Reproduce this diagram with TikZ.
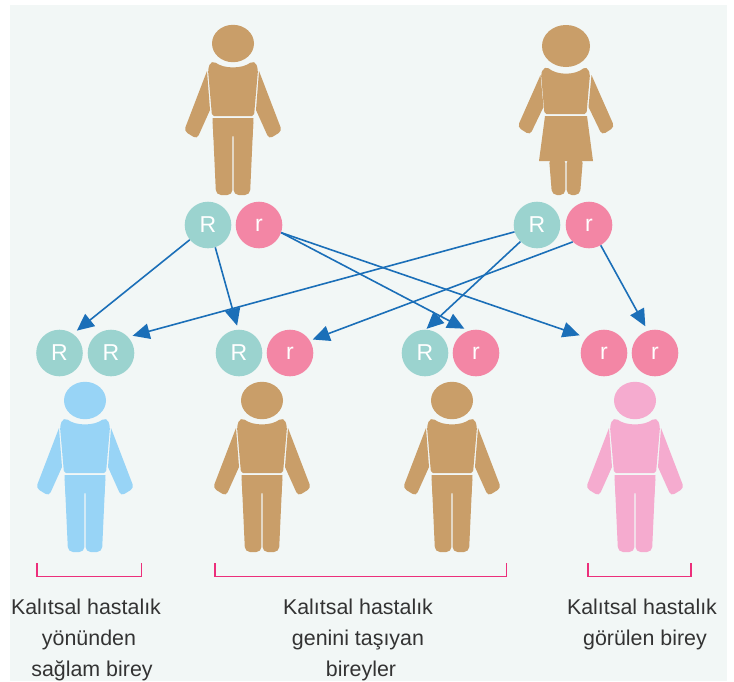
\documentclass[tikz,border=0pt]{standalone}
\usepackage{fontspec}
\setmainfont{Liberation Sans}
\usetikzlibrary{arrows.meta}
\definecolor{panel}{HTML}{F2F7F6}
\definecolor{tan}{HTML}{C99E69}
\definecolor{sky}{HTML}{98D4F6}
\definecolor{rosefig}{HTML}{F5ABCF}
\definecolor{teal}{HTML}{9BD3CF}
\definecolor{pinkc}{HTML}{F386A5}
\definecolor{arrowblue}{HTML}{1B6FB8}
\definecolor{brack}{HTML}{EC2F7B}
\definecolor{txt}{HTML}{333333}
\tikzset{
 x=1pt,y=-1pt,
 allele/.style={circle,minimum size=46.6pt,inner sep=0pt,text=white,font=\fontsize{23}{23}\selectfont},
 big/.style={allele,fill=teal},
 small/.style={allele,fill=pinkc},
 gene/.style={draw=arrowblue,line width=1.6pt,-{Triangle[length=17pt,width=15.5pt]}},
 brk/.style={draw=brack,line width=1.1pt},
 captext/.style={align=center,text=txt,font=\fontsize{21.4}{31}\selectfont},
}
\newcommand{\manfig}[3]{%
 \begin{scope}[shift={(#1,#2)},fill=#3,line join=round]
  \fill (0,.5) ellipse [x radius=21,y radius=18.7];
  \fill[rounded corners=2pt] (-19,18.5) .. controls (-9,26) and (9,26) .. (19,18.5) -- (23,20) -- (25,27) -- (21,73) -- (-21,73) -- (-25,27) -- (-23,20) -- cycle;
  \foreach \s in {-1,1}{
   \fill (\s*26,28) [rounded corners=4pt] -- (\s*49,88) -- (\s*36,96) [sharp corners] -- (\s*23,67) -- cycle;
   \fill[rounded corners=5pt] (\s*20.5,75) -- (\s*17,152) -- (\s*.6,152) -- (\s*.6,75) -- cycle;
   \fill (\s*20.5,75) -- (\s*.6,75) -- (\s*.6,94) -- (\s*19.6,94) -- cycle;
  }
  \fill (-1,75) rectangle (1,93);
 \end{scope}}
\newcommand{\womanfig}[3]{%
 \begin{scope}[shift={(#1,#2)},fill=#3,line join=round]
  \fill (0,0) ellipse [x radius=24,y radius=21];
  \fill[rounded corners=2pt] (-19,21) .. controls (-9,29.5) and (9,29.5) .. (19,21) -- (22,23) -- (24,28) -- (20.5,68) -- (-21.5,68) -- (-25,28) -- (-23,23) -- cycle;
  \foreach \s in {-1,1}{
   \fill (\s*25.5,29) [rounded corners=4pt] -- (\s*48.5,81) -- (\s*36,89) [sharp corners] -- (\s*22.5,61) -- cycle;
   \fill[rounded corners=5pt] (\s*17,112) -- (\s*14,149) -- (\s*.7,149) -- (\s*.7,112) -- cycle;
  }
  \fill (-21,70) -- (21,70) -- (27,115) -- (-27,115) -- cycle;
 \end{scope}}
\begin{document}
\begin{tikzpicture}
\useasboundingbox (0,0) rectangle (734,681);
\fill[white] (0,0) rectangle (734,681);
\fill[panel] (10,5) rectangle (726.5,681);
% figures
\manfig{233}{43}{tan}
\womanfig{566}{46}{tan}
\manfig{85}{400}{sky}
\manfig{262}{400}{tan}
\manfig{452}{400}{tan}
\manfig{635}{400}{rosefig}
% alleles
\node[big]   (fR) at (208,225) {R};
\node[small] (fr) at (259,225) {r};
\node[big]   (mR) at (537,225) {R};
\node[small] (mr) at (589,225) {r};
\node[big]   (a1) at (59.5,353) {R};
\node[big]   (a2) at (111,353) {R};
\node[big]   (b1) at (239,353) {R};
\node[small] (b2) at (290,353) {r};
\node[big]   (c1) at (425,353) {R};
\node[small] (c2) at (476,353) {r};
\node[small] (d1) at (604,353) {r};
\node[small] (d2) at (655,353) {r};
% arrows
\draw[gene,shorten >=5pt] (fR.219) -- (a1.55);
\draw[gene,shorten >=4pt] (fR.-72) -- (b1.92);
\draw[gene,shorten >=4.5pt] (fr.-19) -- (c2.109);
\draw[gene,shorten >=7pt] (fr.-19) -- (d1.139);
\draw[gene,shorten >=4.6pt] (mR.197) -- (a2.43.5);
\draw[gene,shorten >=1pt] (mR.225) -- (c1.88);
\draw[gene,shorten >=3pt] (mr.226) -- (b2.32);
\draw[gene,shorten >=5pt] (mr.-60.5) -- (d2.108);
% brackets
\coordinate (k1a) at (37,563); \coordinate (k1b) at (37,576.5); \coordinate (k1c) at (141.5,576.5); \coordinate (k1d) at (141.5,563);
\coordinate (k2a) at (215,563); \coordinate (k2b) at (215,576.5); \coordinate (k2c) at (506.7,576.5); \coordinate (k2d) at (506.7,563);
\coordinate (k3a) at (588,563); \coordinate (k3b) at (588,576.5); \coordinate (k3c) at (691,576.5); \coordinate (k3d) at (691,563);
\draw[brk] (k1a) -- (k1b) -- (k1c) -- (k1d);
\draw[brk] (k2a) -- (k2b) -- (k2c) -- (k2d);
\draw[brk] (k3a) -- (k3b) -- (k3c) -- (k3d);
% captions
\node[captext,anchor=north] (t1) at (86,595) {Kalıtsal hastalık\\\hspace*{6pt}yönünden\\\hspace*{12pt}sağlam birey};
\node[captext,anchor=north] (t2) at (358,595) {Kalıtsal hastalık\\genini taşıyan\\\hspace*{6pt}bireyler};
\node[captext,anchor=north] (t3) at (642,595) {Kalıtsal hastalık\\\hspace*{6pt}görülen birey};
\end{tikzpicture}
\end{document}
